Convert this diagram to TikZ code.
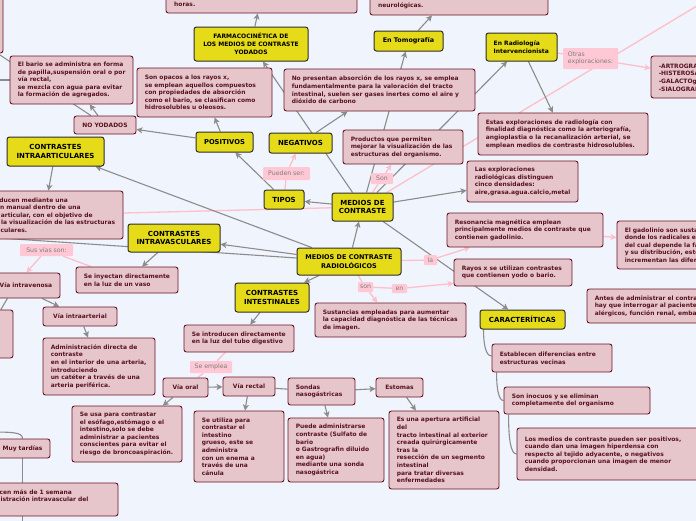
\documentclass[tikz,border=0pt]{standalone}
\usepackage{fontspec}
\setmainfont{DejaVu Sans}
\usetikzlibrary{arrows.meta}
\definecolor{cBack}{RGB}{240,244,252}
\definecolor{cPFill}{RGB}{230,197,203}
\definecolor{cPBorder}{RGB}{105,22,42}
\definecolor{cPText}{RGB}{88,18,32}
\definecolor{cYFill}{RGB}{229,219,25}
\definecolor{cYBorder}{RGB}{45,45,45}
\definecolor{cGray}{RGB}{140,140,140}
\definecolor{cPink}{RGB}{255,190,202}
\definecolor{cLabFill}{RGB}{255,200,212}
\definecolor{cLabText}{RGB}{125,125,125}
\pgfdeclarelayer{bg}
\pgfsetlayers{bg,main}
\newcommand\RSpf{\fontsize{5.95}{7.6}\selectfont\bfseries}
\newcommand\RSyf[2]{\fontsize{#1}{#2}\selectfont\bfseries}
\newcommand\RSlf{\fontsize{6.2}{7.4}\selectfont}
\newcommand\RSgeom[4]{\pgfmathsetmacro\RSw{(#3)-(#1)}\pgfmathsetmacro\RSh{(#4)-(#2)}\pgfmathsetmacro\RSx{((#1)+(#3))/2}\pgfmathsetmacro\RSy{((#2)+(#4))/2}}
% pink box, text left
\newcommand\RSp[7][]{\RSgeom{#3}{#4}{#5}{#6}\node[pbox,minimum width=\RSw pt,minimum height=\RSh pt,#1] (#2) at (\RSx,\RSy) {};\node[ptext,anchor=west] (#2-t) at ([xshift=8pt]#2.west) {#7};}
% pink box, text centred
\newcommand\RSc[7][]{\RSgeom{#3}{#4}{#5}{#6}\node[pcen,minimum width=\RSw pt,minimum height=\RSh pt,#1] (#2) at (\RSx,\RSy) {#7};}
% yellow box
\newcommand\RSyb[7][]{\RSgeom{#3}{#4}{#5}{#6}\node[ybox,minimum width=\RSw pt,minimum height=\RSh pt,#1] (#2) at (\RSx,\RSy) {#7};}
% label
\newcommand\RSl[7][]{\RSgeom{#3}{#4}{#5}{#6}\node[lbox,minimum width=\RSw pt,minimum height=\RSh pt,#1] (#2) at (\RSx,\RSy) {#7};}
\tikzset{
 pbox/.style={draw=cPBorder,fill=cPFill,rounded corners=2.5pt,line width=0.9pt,inner sep=0pt},
 ptext/.style={inner sep=0pt,align=left,text=cPText,font=\RSpf},
 pcen/.style={pbox,align=center,text=cPText,font=\RSpf},
 ybox/.style={draw=cYBorder,fill=cYFill,rounded corners=2.5pt,line width=1pt,inner sep=0pt,align=center,text=black,font=\RSyf{7}{8.3}},
 lbox/.style={fill=cLabFill,rounded corners=1pt,inner sep=0pt,align=left,text=cLabText,font=\RSlf},
 gl/.style={draw=cGray,line width=1.1pt},
 ga/.style={gl,-{Stealth[length=6pt,width=6pt,inset=1.5pt]}},
 pl/.style={draw=cPink,line width=1.3pt},
 pa/.style={pl,-{Stealth[length=6pt,width=6pt,inset=1.5pt]}}
}
\begin{document}
\begin{tikzpicture}[x=1pt,y=-1pt]
\useasboundingbox (0,0) rectangle (696,520);
% ---------- yellow boxes
\RSyb[font=\RSyf{6.0}{8}]{farma}{194}{27}{308}{61}{FARMACOCINÉTICA DE\\LOS MEDIOS DE CONTRASTE\\YODADOS}
\RSyb[font=\RSyf{6.4}{8}]{tomo}{374}{31}{443}{51}{En Tomografía}
\RSyb{radint}{486}{33}{557}{61}{}
\node[inner sep=0pt,align=left,font=\RSyf{6.0}{8},anchor=west] (radint-t) at ([xshift=8pt]radint.west) {En Radiología\\Intervencionista};
\RSyb[font=\RSyf{6.75}{8}]{positivos}{196}{132}{253}{152}{POSITIVOS}
\RSyb{negativos}{269}{133}{332}{153}{NEGATIVOS}
\RSyb{intraart}{7}{137}{104}{166}{CONTRASTES\\INTRAARTICULARES}
\RSyb{tipos}{264}{190}{304}{209}{TIPOS}
\RSyb{medios}{332}{193}{393}{221}{MEDIOS DE\\CONTRASTE}
\RSyb{intravasc}{128}{224}{220}{252}{CONTRASTES\\INTRAVASCULARES}
\RSyb[font=\RSyf{6.5}{8.3}]{radiol}{297}{248}{401}{275}{MEDIOS DE CONTRASTE\\RADIOLÓGICOS}
\RSyb{intest}{235}{283}{309}{312}{CONTRASTES\\INTESTINALES}
\RSyb{caract}{480}{310}{565}{329}{CARACTERÍTICAS}
% ---------- pink boxes
\RSp{tlbox}{-40}{-20}{3}{53}{}
\RSp{horasbox}{166}{-20}{357}{13}{}
\node[ptext,anchor=base west] (horastxt) at (174,6.5) {horas.};
\RSp{neurobox}{370}{-20}{548}{15}{}
\node[ptext,anchor=base west] (neurotxt) at (378,7.5) {neurológicas.};
\RSp{elbario}{10}{56}{133}{104}{El bario se administra en forma\\de papilla,suspensión oral o por\\vía rectal,\\se mezcla con agua para evitar\\la formación de agregados.}
\RSc{noyod}{74}{116}{136}{134}{NO YODADOS}
\RSp{opacos}{137}{68}{272}{117}{Son opacos a los rayos x,\\se emplean aquellos compuestos\\con propiedades de absorción\\como el bario, se clasifican como\\hidrosolubles u oleosos.}
\RSp{nopres}{284}{69}{475}{111}{No presentan absorción de los rayos x, se emplea\\fundamentalmente para la valoración del tracto\\intestinal, suelen ser gases inertes como el aire y\\dióxido de carbono}
\RSp{productos}{343}{130}{463}{164}{Productos que permiten\\mejorar la visualización de las\\estructuras del organismo.}
\RSp{estas}{478}{113}{648}{155}{Estas exploraciones de radiología con\\finalidad diagnóstica como la arteriografía,\\angioplastia o la recanalización arterial, se\\emplean medios de contraste hidrosolubles.}
\RSp{artro}{651}{56}{760}{98}{-ARTROGRAFÍA\\-HISTEROSALPINGOGRAFÍA\\-GALACTOgrafía\\-SIALOGRAFÍA}
\RSp{lasexp}{467}{161}{578}{202}{Las exploraciones\\radiológicas distinguen\\cinco densidades:\\aire,grasa.agua.calcio,metal}
\RSp{seintro}{-35}{191}{123}{239}{Se introducen mediante una\\inyección manual dentro de una\\cavidad articular, con el objetivo de\\mejorar la visualización de las estructuras\\intraarticulares.}
\RSp{sustancias}{315}{303}{466}{337}{Sustancias empleadas para aumentar\\la capacidad diagnóstica de las técnicas\\de imagen.}
\RSp{resonancia}{447}{213}{603}{247}{Resonancia magnética emplean\\principalmente medios de contraste que\\contienen gadolinio.}
\RSp{rayosx}{454}{259}{572}{286}{Rayos x se utilizan contrastes\\que contienen yodo o bario.}
\RSp{gadolinio}{617}{221}{800}{269}{El gadolinio son sustancias\\donde los radicales están\\del cual depende la farmacocinética\\y su distribución, estos\\incrementan las diferencias}
\RSp{antes}{587}{289}{820}{323}{Antes de administrar el contraste\\hay que interrogar al paciente sobre antecedentes\\alérgicos, función renal, embarazo}
\RSp{seinyectan}{76}{267}{178}{293}{Se inyectan directamente\\en la luz de un vaso}
\RSp{viaiv}{-30}{273}{60}{298}{}
\node[ptext,anchor=east] (viaivtxt) at ([xshift=-8pt]viaiv.east) {Vía intravenosa};
\RSp{leftbox}{-40}{310}{13}{358}{}
\RSc{viaia}{43}{307}{117}{326}{Vía intraarterial}
\RSp{admin}{43}{338}{155}{395}{Administración directa de\\contraste\\en el interior de una arteria,\\introduciendo\\un catéter a través de una\\arteria periférica.}
\RSp{seintrodir}{184}{325}{294}{352}{Se introducen directamente\\en la luz del tubo digestivo}
\RSc{viaoral}{163}{378}{208}{397}{Vía oral}
\RSc{viarectal}{223}{377}{275}{396}{Vía rectal}
\RSp{sondas}{288}{378}{355}{405}{Sondas\\nasogástricas}
\RSc{estomas}{376}{378}{423}{397}{Estomas}
\RSp{seusa}{72}{406}{182}{462}{Se usa para contrastar\\el esófago,estómago o el\\intestino,solo se debe\\administrar a pacientes\\conscientes para evitar el\\riesgo de broncoaspiración.}
\RSp{seutiliza}{194}{411}{284}{482}{Se utiliza para\\contrastar el\\intestino\\grueso, este se\\administra\\con un enema a\\través de una\\cánula}
\RSp{puede}{288}{418}{384}{482}{Puede administrarse\\contraste (Sulfato de\\bario\\o Gastrografin diluido\\en agua)\\mediante una sonda\\nasogástrica}
\RSp{esuna}{389}{411}{499}{489}{Es una apertura artificial\\del\\tracto intestinal al exterior\\creada quirúrgicamente\\tras la\\resección de un segmento\\intestinal\\para tratar diversas\\enfermedades}
\RSp{establecen}{492}{344}{612}{372}{Establecen diferencias entre\\estructuras vecinas}
\RSp{inocuos}{504}{387}{650}{414}{Son inocuos y se eliminan\\completamente del organismo}
\RSp{losmedios}{517}{428}{705}{480}{Los medios de contraste pueden ser positivos,\\cuando dan una imagen hiperdensa con\\respecto al tejido adyacente, o negativos\\cuando proporcionan una imagen de menor\\densidad.}
\RSc{muytardias}{-5}{439}{50}{458}{Muy tardías}
\RSp{semana}{-28}{483}{118}{516}{Aparecen más de 1 semana\\administración intravascular del\\\mbox{}}
% ---------- labels
\RSl{puedenser}{263}{167}{310}{180}{Pueden ser:}
\RSl{son1}{371}{173}{393}{184}{Son}
\RSl{otras}{563}{48}{618}{69}{Otras\\exploraciones:}
\RSl{susvias}{20}{244}{73}{256}{Sus vías son:}
\RSl{la}{424}{255}{437}{265}{la}
\RSl{son2}{358}{282}{373}{292}{son}
\RSl{en}{392}{284}{407}{293}{en}
\RSl{seemplea}{190}{361}{232}{373}{Se emplea}
% ---------- free ends
\coordinate (offA) at (-30,35);
\coordinate (offB) at (-30,80);
\coordinate (offC) at (-30,236);
\coordinate (offTR) at (760,-32);
\coordinate (mt0) at (-15,432);
\coordinate (mtend) at (22.5,530);
% ---------- connectors
\begin{pgfonlayer}{bg}
\fill[cBack] (-60,-60) rectangle (840,600);
% pink links
\draw[pl] (medios) -- (offTR);
\draw[pl] (medios) -- (seintro);
\draw[pl] (tipos) -- (puedenser);
\draw[pa] (puedenser) -- (negativos);
\draw[pl] (medios) -- (son1);
\draw[pa] (son1) -- (productos);
\draw[pl] (radiol) -- (la);
\draw[pa] (la) -- (resonancia);
\draw[pl] (radiol) -- (son2);
\draw[pa] (son2) -- (sustancias);
\draw[pl] (son2) -- (en);
\draw[pa] (en) -- ([yshift=3pt]rayosx.south west);
\draw[pa] (resonancia) -- (gadolinio);
\draw[pa] (gadolinio) -- (antes);
\draw[pl] (radint) -- (otras);
\draw[pa] (otras) -- (artro);
\draw[pl] (seinyectan) -- (susvias);
\draw[pa] (susvias) -- (viaiv);
\draw[pl] (seintrodir) -- (seemplea);
\draw[pl] (seemplea) -- (viaoral);
% gray links
\draw[ga] (farma) -- (horasbox);
\draw[ga] (tomo) -- ([xshift=-27pt]neurobox.south);
\draw[ga] (positivos) -- (noyod);
\draw[ga] (positivos) -- (opacos);
\draw[ga] (noyod) -- (elbario);
\draw[gl] (noyod) -- (offA);
\draw[gl] (elbario) -- (offB);
\draw[ga] (negativos) -- (nopres);
\draw[ga] (medios) -- (farma);
\draw[ga] (medios) -- (tomo);
\draw[ga] (medios) -- (radint);
\draw[ga] (medios) -- (tipos);
\draw[ga] (medios) -- (lasexp);
\draw[ga] (medios) -- (caract);
\draw[ga] (tipos) -- (positivos);
\draw[ga] (radint) -- (estas);
\draw[ga] (radiol) -- (medios);
\draw[ga] (radiol) -- (intraart);
\draw[ga] (radiol) -- (intravasc);
\draw[gl] (radiol) -- (offC);
\draw[ga] (radiol) -- (intest);
\draw[ga] (intraart) -- (seintro);
\draw[ga] (intravasc) -- (seinyectan);
\draw[ga] (viaiv) -- (viaia);
\draw[gl] (viaiv) -- (leftbox);
\draw[ga] (viaia) -- (admin);
\draw[ga] (intest) -- (seintrodir);
\draw[ga] (viaoral) -- (viarectal);
\draw[gl] (viarectal) -- (sondas);
\draw[ga] (sondas) -- (estomas);
\draw[ga] (viaoral) -- (seusa);
\draw[ga] (viarectal) -- (seutiliza);
\draw[ga] (sondas) -- (puede);
\draw[ga] (estomas) -- (esuna);
% tree connectors
\draw[gl] ([xshift=4pt]caract.south west) .. controls +(0,-14pt) and +(-6pt,0) .. ([yshift=2pt]establecen.west);
\draw[gl] ([xshift=5pt]establecen.south west) .. controls +(0,-16pt) and +(-5pt,0) .. (inocuos.west);
\draw[gl] ([xshift=5pt]inocuos.south west) .. controls +(0,-24pt) and +(-6pt,0) .. (losmedios.west);
\draw[gl] (mt0) .. controls (12,432) and (22.5,432) .. (muytardias.north);
\draw[gl] (muytardias.south) -- (muytardias.south |- semana.north);
\draw[gl] (muytardias.south |- semana.south) -- (mtend);
\end{pgfonlayer}
\end{tikzpicture}
\end{document}
